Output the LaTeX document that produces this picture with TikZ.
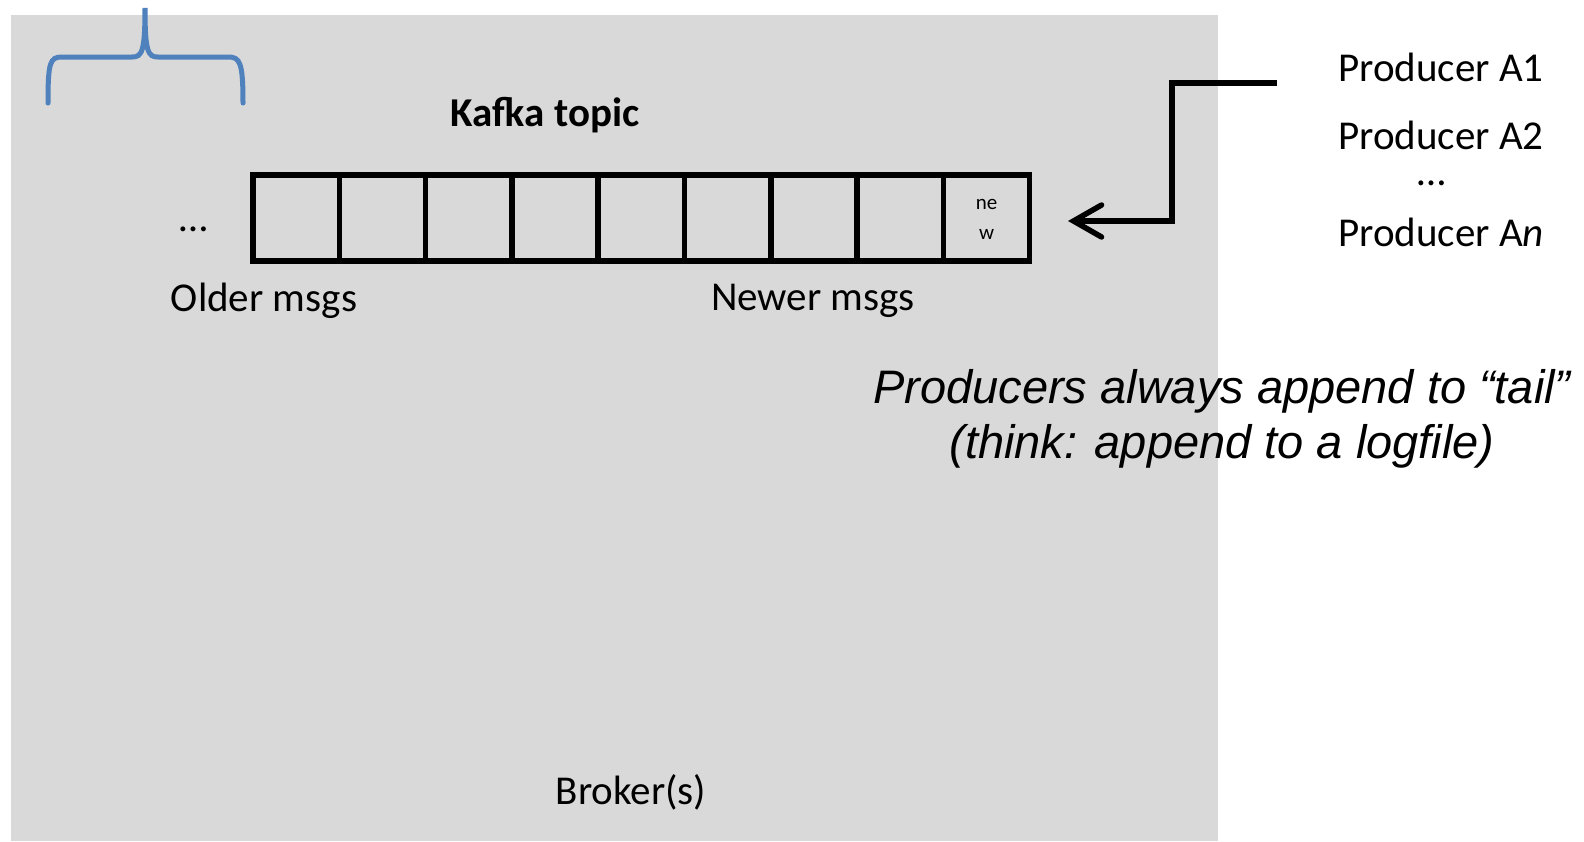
\documentclass[tikz,border=0pt]{standalone}
\usepackage{fontspec}
\setmainfont{Carlito}
\newfontfamily\arialfont{Liberation Sans}
\usetikzlibrary{arrows.meta}
\definecolor{brokergray}{HTML}{D9D9D9}
\definecolor{braceblue}{HTML}{4F81BD}
\tikzset{
  cellbox/.style={draw=black, line width=5.5pt, minimum width=86.3pt, minimum height=86pt,
    inner sep=0pt, outer sep=0pt, anchor=north west},
  label41/.style={font=\fontsize{41}{46}\selectfont, inner sep=0pt},
  bracepath/.style={draw=braceblue, line width=5pt, line cap=round},
  feed/.style={draw=black, line width=5.5pt, line join=miter,
    -{Straight Barb[length=28pt, width=32pt, line cap=round]}},
}
\begin{document}
\begin{tikzpicture}[x=1pt, y=-1pt]
\useasboundingbox (0,0) rectangle (1584,841);
% broker area
\fill[brokergray] (11,15) rectangle (1218,841);
\node[label41] (broker) at (631,792) {Broker(s)};

% curly brace over the oldest messages
\draw[bracepath] (48,103) .. controls (48,62) and (50,57) .. (62,57) -- (132,57)
  .. controls (142,57) and (145,52) .. (145,8)
  .. controls (145,52) and (148,57) .. (158,57) -- (228,57)
  .. controls (240,57) and (243,62) .. (243,103);

% topic log cells
\node[font=\fontsize{41}{46}\selectfont\bfseries, inner sep=0pt] (title) at (545,115) {Kafka topic};
\foreach \i in {1,...,9} {
  \node[cellbox] (c\i) at ({253+(\i-1)*86.3},175) {};
}
\node[font=\fontsize{21}{30}\selectfont, align=center, inner sep=0pt] (newtxt) at ([yshift=-1pt]c9.center) {ne\\w};
\node[label41] (olddots) at (194,229) {\dots};
\node[label41] (older) at (264,301) {Older msgs};
\node[label41] (newer) at (813,301) {Newer msgs};

% producers
\node[label41] (pa1) at (1441,67) {Producer A1};
\node[label41] (pa2) at (1441,135) {Producer A2};
\node[label41, text depth=0pt, text height=5pt] (pdots) at (1432,183) {\dots};
\node[label41] (pan) at (1441,232) {Producer A\textit{n}};
\coordinate (pstart) at (1277,83);
\coordinate (cend) at (1068,221);
\draw[feed] (pstart) -- (1172,83) |- (cend);

% note
\node[font=\arialfont\itshape\fontsize{47}{55}\selectfont, align=center, inner sep=0pt] (note) at (1222,419)
  {Producers always append to “tail”\\(think: append to a logfile)};
\end{tikzpicture}
\end{document}
